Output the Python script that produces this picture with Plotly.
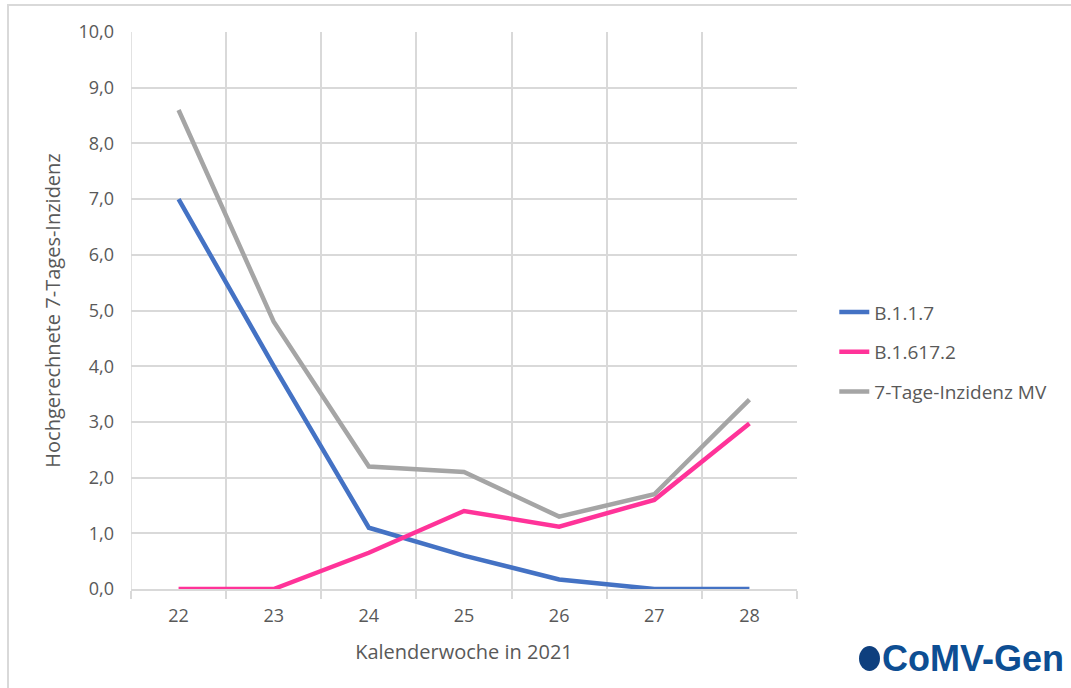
import plotly.graph_objects as go

# Kalenderwochen 2021
wochen = [22, 23, 24, 25, 26, 27, 28]

# Hochgerechnete 7-Tages-Inzidenz je Variante
b117 = [7.0, 4.0, 1.1, 0.6, 0.17, 0.0, 0.0]
b16172 = [0.0, 0.0, 0.65, 1.4, 1.12, 1.6, 2.97]
inzidenz_mv = [8.6, 4.8, 2.2, 2.1, 1.3, 1.7, 3.4]

series = [
    ("B.1.1.7", b117, "#4472C4"),
    ("B.1.617.2", b16172, "#FF3399"),
    ("7-Tage-Inzidenz MV", inzidenz_mv, "#A5A5A5"),
]

fig = go.Figure()
for name, vals, color in series:
    fig.add_trace(go.Scatter(
        x=wochen, y=vals, name=name, mode="lines",
        line=dict(color=color, width=4.5),
        legendgroup=name,
    ))

font_family = "Open Sans, Lato, sans-serif"
tick_color = "#595959"
grid_color = "#D9D9D9"

fig.update_layout(
    width=1071, height=688,
    margin=dict(l=131, r=274, t=32, b=99),
    paper_bgcolor="white", plot_bgcolor="white",
    separators=",.",
    font=dict(family=font_family, color=tick_color, size=18),
    showlegend=True,
    legend=dict(
        x=1.056, y=0.425, xanchor="left", yanchor="middle",
        font=dict(size=19, color=tick_color),
        tracegroupgap=12,
        bgcolor="rgba(0,0,0,0)",
    ),
    xaxis=dict(
        range=[21.5, 28.5],
        tickvals=wochen,
        ticktext=[str(w) for w in wochen],
        ticks="",
        showgrid=False,
        showline=True, linecolor=grid_color, linewidth=1.5,
        ticklabelstandoff=10,
        tickfont=dict(size=18, color=tick_color),
        minor=dict(tick0=21.5, dtick=1, showgrid=True, gridcolor=grid_color,
                   gridwidth=1.5, ticks="outside", ticklen=8,
                   tickcolor=grid_color, tickwidth=1.5),
        zeroline=False,
        title=dict(text="Kalenderwoche in 2021", standoff=19,
                   font=dict(size=20, color=tick_color)),
    ),
    yaxis=dict(
        range=[0, 10],
        dtick=1,
        tickformat=".1f",
        showgrid=True, gridcolor=grid_color, gridwidth=1.5,
        zeroline=False, showline=False,
        ticks="",
        ticklabelstandoff=16,
        tickfont=dict(size=18, color=tick_color),
        title=dict(text="Hochgerechnete 7-Tages-Inzidenz", standoff=12,
                   font=dict(size=20, color=tick_color)),
    ),
)

# linke Begrenzungslinie der Kategorienachse
fig.add_shape(type="line", xref="x", yref="paper",
              x0=21.5, x1=21.5, y0=0, y1=1,
              line=dict(color=grid_color, width=1.5), layer="below")

# Rahmen des Diagrammbereichs
fig.add_shape(type="rect", xref="paper", yref="paper",
              x0=(8 - 131) / 666, x1=(1080 - 131) / 666,
              y0=(589 - 700) / 557, y1=(589 - 5) / 557,
              line=dict(color=grid_color, width=2), fillcolor="rgba(0,0,0,0)",
              layer="below")

# Logo CoMV-Gen
fig.add_shape(type="circle", xref="paper", yref="paper",
              x0=(859 - 131) / 666, x1=(880 - 131) / 666,
              y0=(589 - 671) / 557, y1=(589 - 646) / 557,
              line=dict(width=0), fillcolor="#0E3F7E")
fig.add_annotation(xref="paper", yref="paper",
                   x=(880 - 131) / 666, y=(589 - 658) / 557,
                   xanchor="left", yanchor="middle", showarrow=False,
                   text="<b>CoMV-Gen</b>",
                   font=dict(family="Liberation Sans, Arial, sans-serif",
                             size=36, color="#0D4E93"))

fig.write_html("out.html")
